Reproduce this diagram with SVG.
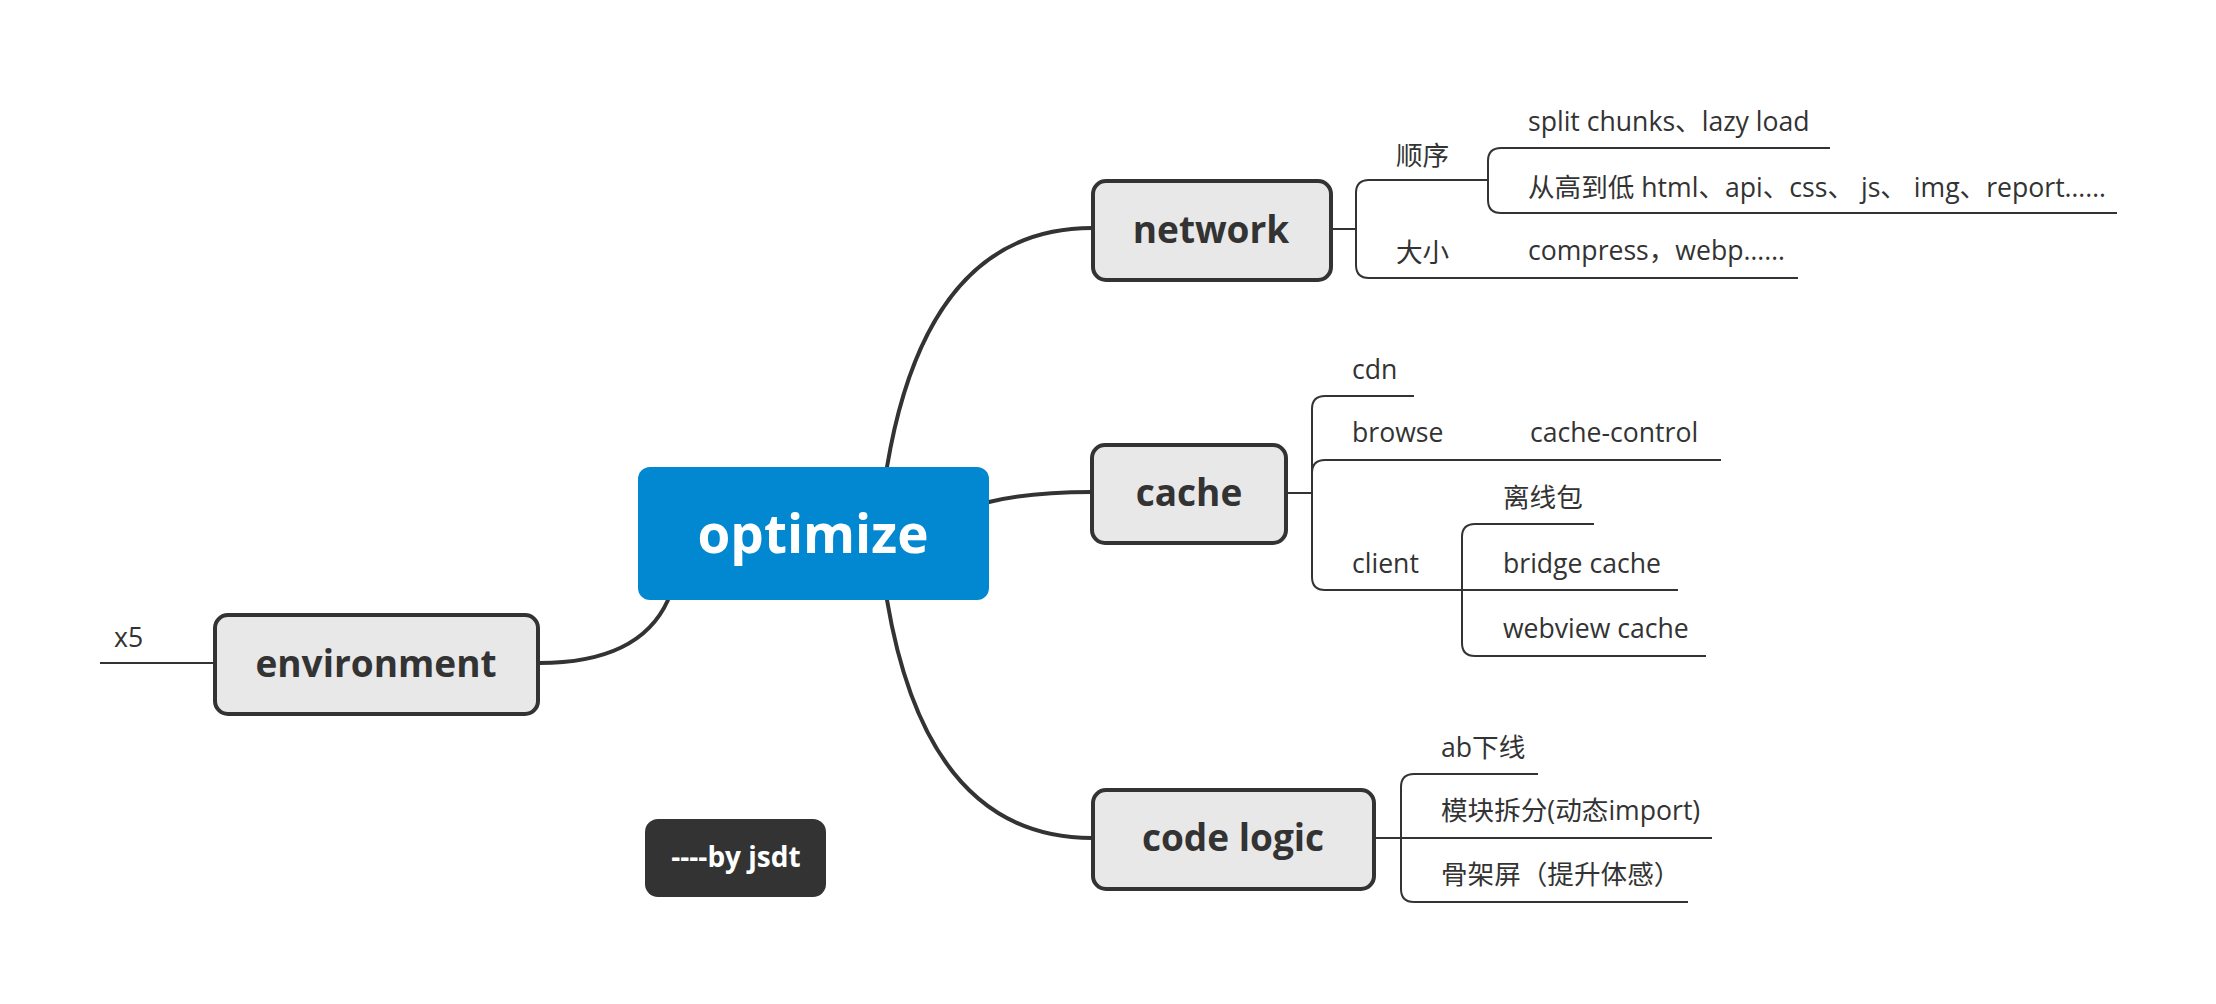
<svg xmlns="http://www.w3.org/2000/svg" width="2216" height="1004" viewBox="0 0 2216 1004">
<style>
.node rect{fill:#e8e8e8;stroke:#333;stroke-width:4}
.nt{font-family:"Open Sans","Noto Sans CJK SC",sans-serif;font-weight:700;font-size:37px;fill:#333;text-anchor:middle}
.leaf{font-family:"Open Sans","Noto Sans CJK SC",sans-serif;font-size:26.6px;fill:#333}
.main{fill:none;stroke:#333;stroke-width:4;stroke-linecap:round}
.br{fill:none;stroke:#333;stroke-width:2}
</style>
<rect width="2216" height="1004" fill="#fff"/>
<g id="connectors">
<path class="main" d="M887,467 Q927,228 1092,228"/>
<path class="main" d="M887,600 Q927,838 1092,838"/>
<path class="main" d="M989,502 Q1030,492 1092,492"/>
<path class="main" d="M668,600 C650,640 610,663 539,663"/>
<path class="br" d="M1331,229 H1356"/>
<path class="br" d="M1488,180 H1369 Q1356,180 1356,193 V265 Q1356,278 1369,278 H1798"/>
<path class="br" d="M1830,148 H1501 Q1488,148 1488,161 V200 Q1488,213 1501,213 H2117"/>
<path class="br" d="M1287,493 H1312"/>
<path class="br" d="M1414,396 H1325 Q1312,396 1312,409 V577 Q1312,590 1325,590 H1678"/>
<path class="br" d="M1312,473 Q1312,460 1325,460 H1721"/>
<path class="br" d="M1594,524 H1475 Q1462,524 1462,537 V643 Q1462,656 1475,656 H1706"/>
<path class="br" d="M1375,838 H1712"/>
<path class="br" d="M1538,774 H1414 Q1401,774 1401,787 V889 Q1401,902 1414,902 H1688"/>
<path class="br" d="M213,663 H100"/>
</g>
<g id="optimize">
<rect x="638" y="467" width="351" height="133" rx="12" fill="#0288d1"/>
<text x="813" y="553" font-family="'Open Sans',sans-serif" font-weight="700" font-size="53" fill="#fff" text-anchor="middle">optimize</text>
</g>
<g id="network" class="node">
<rect x="1093" y="181" width="238" height="99" rx="13"/>
<text class="nt" x="1211" y="243">network</text>
</g>
<g id="cache" class="node">
<rect x="1092" y="445" width="194" height="98" rx="13"/>
<text class="nt" x="1189" y="506">cache</text>
</g>
<g id="codelogic" class="node">
<rect x="1093" y="790" width="281" height="99" rx="13"/>
<text class="nt" x="1233" y="851">code logic</text>
</g>
<g id="environment" class="node">
<rect x="215" y="615" width="323" height="99" rx="13"/>
<text class="nt" x="376" y="677">environment</text>
</g>
<g id="byjsdt">
<rect x="645" y="819" width="181" height="78" rx="13" fill="#333"/>
<text x="736" y="867" font-family="'Open Sans',sans-serif" font-weight="700" font-size="28" fill="#fff" text-anchor="middle">----by jsdt</text>
</g>
<g id="leaves">
<text class="leaf" x="1396" y="165">顺序</text>
<text class="leaf" x="1396" y="262">大小</text>
<text class="leaf" x="1528" y="131">split chunks、lazy load</text>
<text class="leaf" x="1528" y="197">从高到低 html、api、css、 js、 img、report……</text>
<text class="leaf" x="1528" y="260">compress，webp……</text>
<text class="leaf" x="1352" y="379">cdn</text>
<text class="leaf" x="1352" y="442">browse</text>
<text class="leaf" x="1530" y="442">cache-control</text>
<text class="leaf" x="1503" y="507">离线包</text>
<text class="leaf" x="1352" y="573">client</text>
<text class="leaf" x="1503" y="573">bridge cache</text>
<text class="leaf" x="1503" y="638">webview cache</text>
<text class="leaf" x="1441" y="757">ab下线</text>
<text class="leaf" x="1441" y="820">模块拆分(动态import)</text>
<text class="leaf" x="1441" y="884">骨架屏（提升体感）</text>
<text class="leaf" x="114" y="647">x5</text>
</g>
</svg>
